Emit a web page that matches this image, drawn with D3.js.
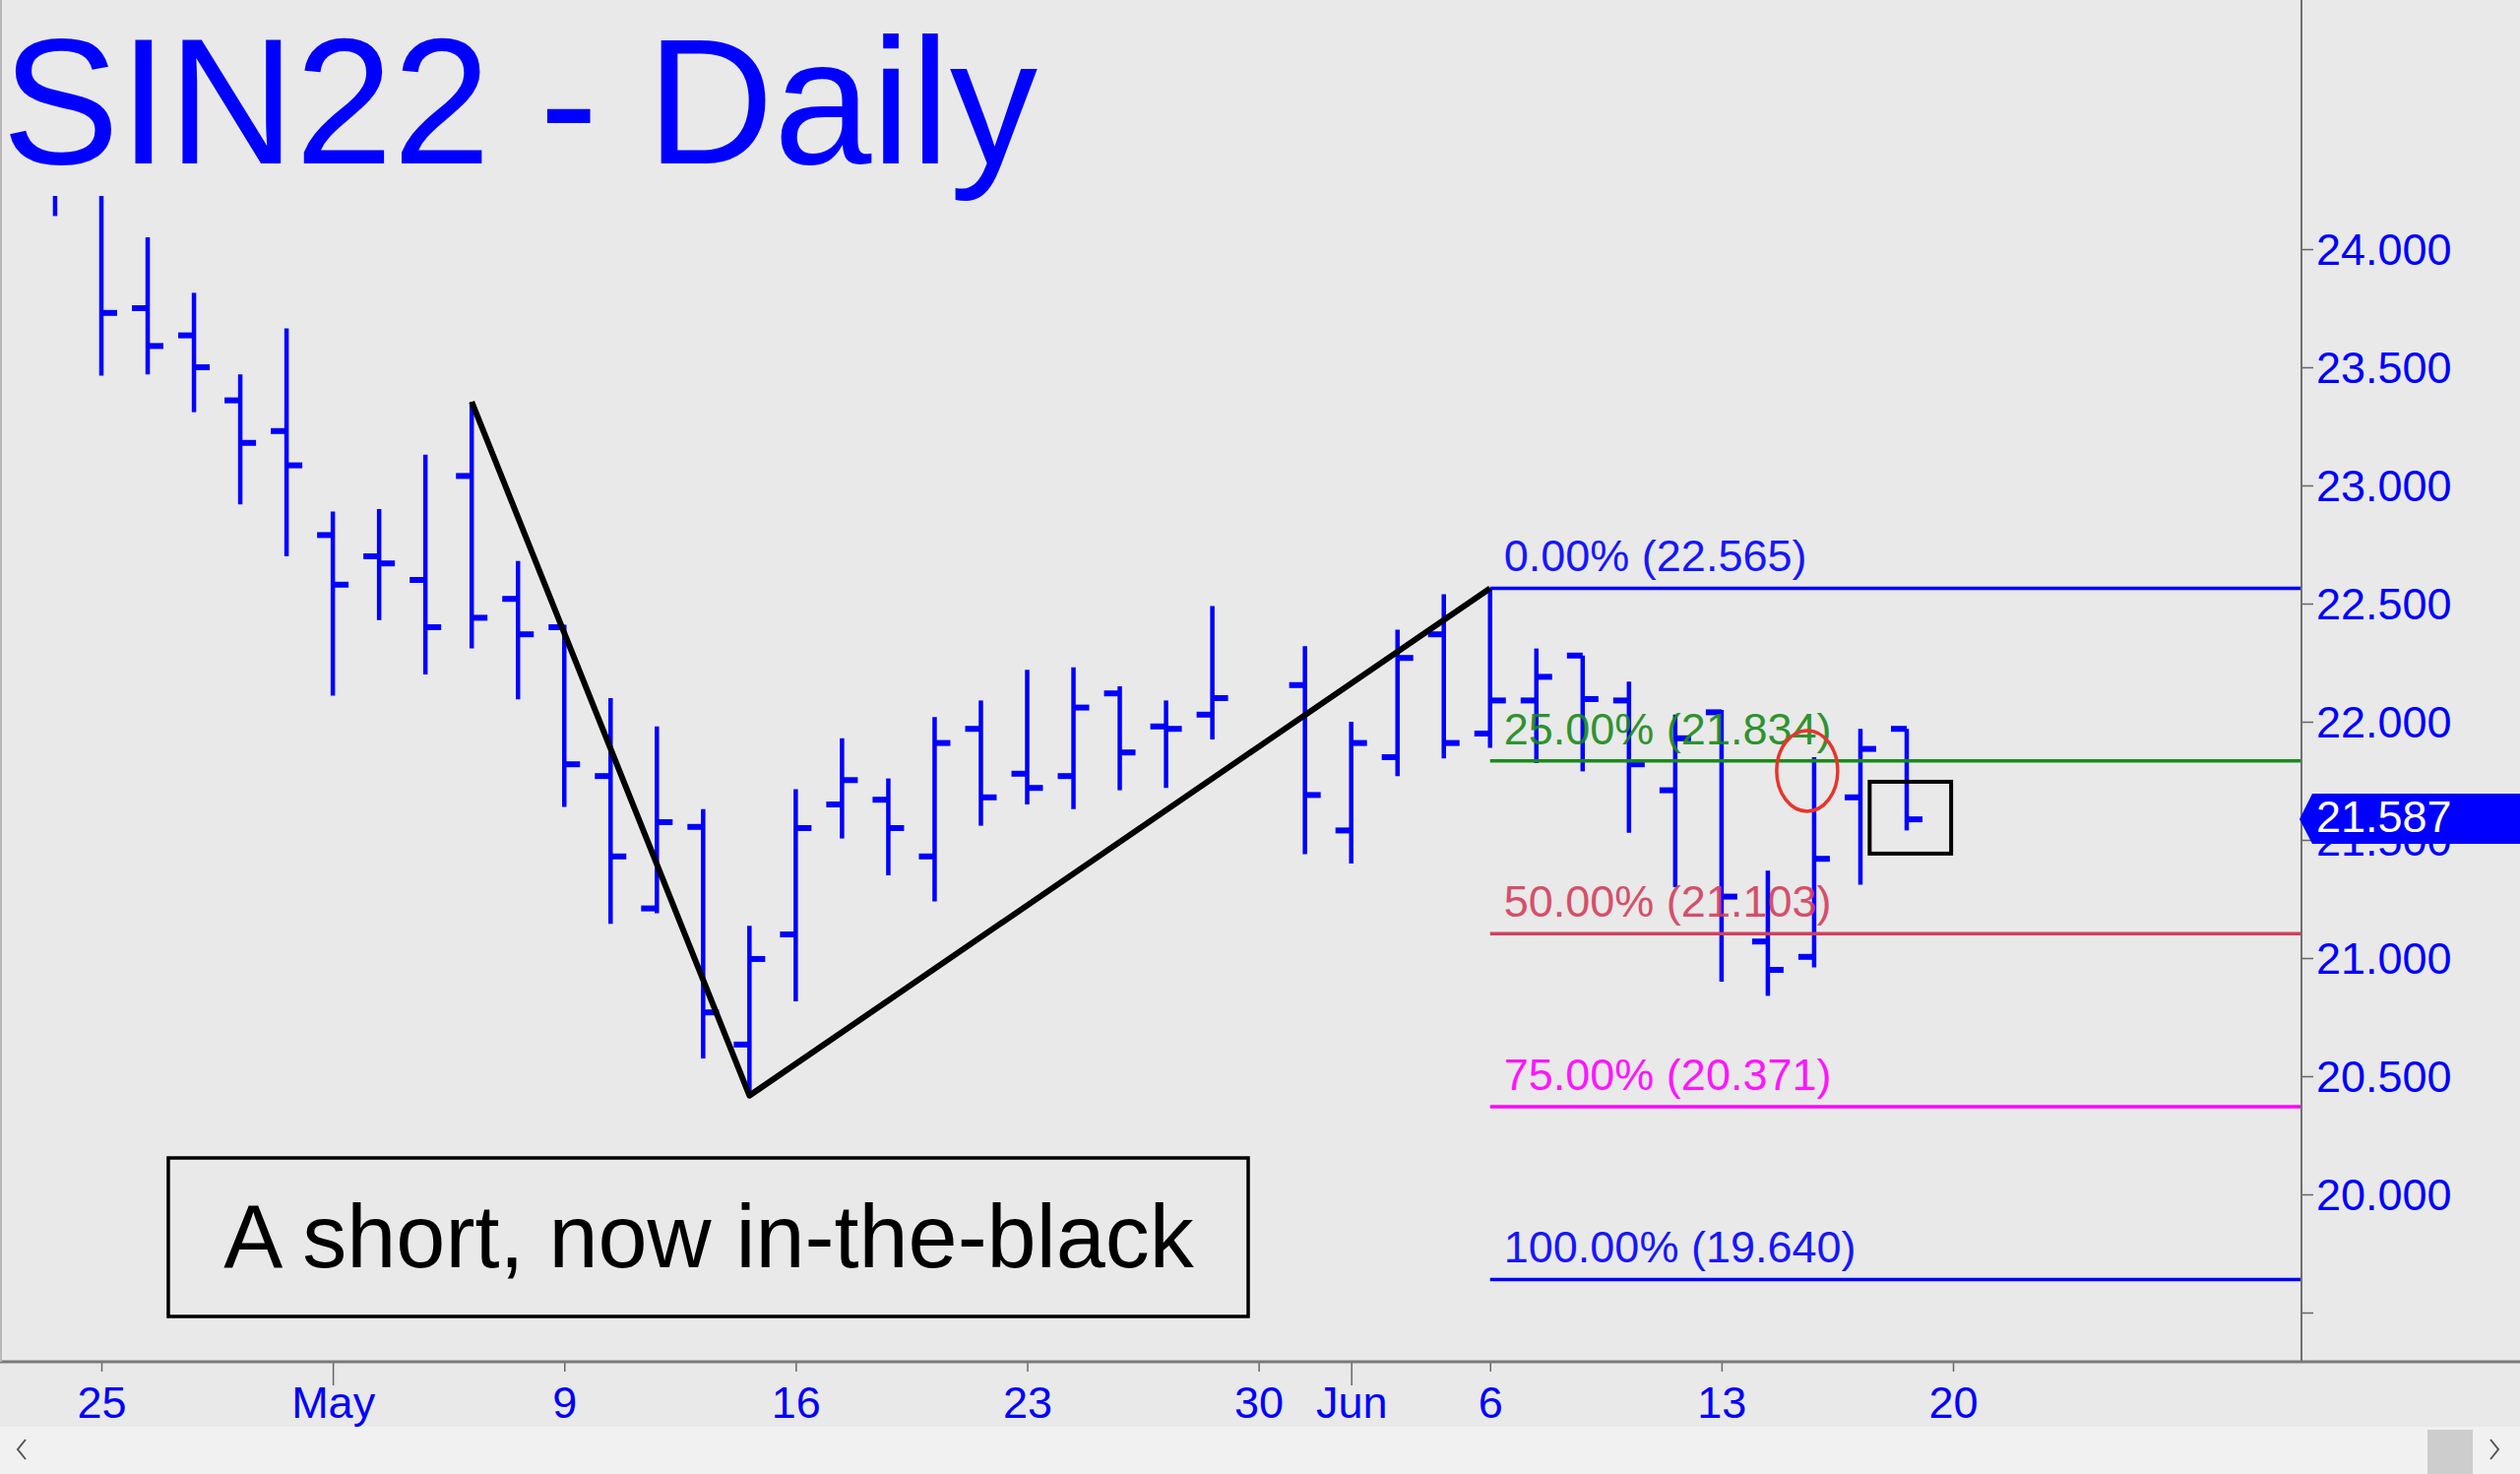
<!DOCTYPE html>
<html>
<head>
<meta charset="utf-8">
<script src="https://cdn.jsdelivr.net/npm/d3@7"></script>
<style>
  body { margin: 0; background: #e9e9e9; }
  svg { display: block; font-family: "Liberation Sans", Arial, sans-serif; }
</style>
</head>
<body>
<div id="chart"></div>
<script>
// daily OHLC bars, SIN22 (trading days only, May 30 holiday)
const dates = ["2022-04-22", "2022-04-25", "2022-04-26", "2022-04-27", "2022-04-28", "2022-04-29",
    "2022-05-02", "2022-05-03", "2022-05-04", "2022-05-05", "2022-05-06",
    "2022-05-09", "2022-05-10", "2022-05-11", "2022-05-12", "2022-05-13",
    "2022-05-16", "2022-05-17", "2022-05-18", "2022-05-19", "2022-05-20",
    "2022-05-23", "2022-05-24", "2022-05-25", "2022-05-26", "2022-05-27",
    "2022-05-31", "2022-06-01", "2022-06-02", "2022-06-03",
    "2022-06-06", "2022-06-07", "2022-06-08", "2022-06-09", "2022-06-10",
    "2022-06-13", "2022-06-14", "2022-06-15", "2022-06-16", "2022-06-17"];
const opens = [24.45, 24.30, 23.75, 23.635, 23.36, 23.23,
    22.79, 22.70, 22.60, 23.04, 22.52,
    22.40, 21.77, 21.21, 21.555, 20.634,
    21.10, 21.65, 21.67, 21.43, 21.97,
    21.78, 21.77, 22.12, 21.98, 22.03,
    22.155, 21.54, 21.85, 22.37,
    21.95, 22.09, 22.28, 22.09, 21.71,
    22.04, 21.07, 21.005, 21.68, 21.97];
const highs = [24.55, 24.40, 24.05, 23.815, 23.47, 23.665,
    22.89, 22.90, 23.13, 23.354, 22.68,
    22.41, 22.10, 21.98, 21.63, 21.136,
    21.715, 21.93, 21.76, 22.02, 22.09,
    22.22, 22.23, 22.15, 22.09, 22.49,
    22.32, 22.00, 22.39, 22.54,
    22.565, 22.31, 22.28, 22.17, 22.03,
    22.05, 21.37, 21.85, 21.97, 21.97];
const lows = [24.14, 23.465, 23.47, 23.31, 22.92, 22.70,
    22.11, 22.43, 22.20, 22.31, 22.095,
    21.64, 21.145, 21.19, 20.575, 20.418,
    20.817, 21.506, 21.35, 21.24, 21.56,
    21.65, 21.63, 21.71, 21.72, 21.925,
    21.44, 21.40, 21.77, 21.845,
    21.89, 21.825, 21.79, 21.53, 21.30,
    20.90, 20.84, 20.96, 21.31, 21.54];
const closes = [24.30, 23.73, 23.59, 23.50, 23.18, 23.085,
    22.58, 22.67, 22.40, 22.44, 22.37,
    21.82, 21.43, 21.575, 20.77, 20.996,
    21.55, 21.753, 21.55, 21.91, 21.68,
    21.72, 22.06, 21.87, 21.97, 22.10,
    21.69, 21.91, 22.27, 21.91,
    22.09, 22.19, 22.096, 21.82, 21.93,
    21.26, 20.95, 21.42, 21.885, 21.587];

// axis ticks
const tickDates = ["2022-04-25", "2022-05-02", "2022-05-09", "2022-05-16", "2022-05-23",
    "2022-05-30", "2022-06-01", "2022-06-06", "2022-06-13", "2022-06-20"];
const tickLabels = ["25", "May", "9", "16", "23", "30", "Jun", "6", "13", "20"];
const monthLabels = ["May", "Jun"];
const priceTicks = [19.5, 20, 20.5, 21, 21.5, 22, 22.5, 23, 23.5, 24];

// fibonacci levels
const fibPct = ["0.00%", "25.00%", "50.00%", "75.00%", "100.00%"];
const fibVals = [22.565, 21.834, 21.103, 20.371, 19.640];
const fibColors = ["#0000ff", "#1a8a1a", "#d2405c", "#ff00ff", "#0000ff"];
const fibStart = "2022-06-06";

// swing line
const swingDates = ["2022-05-05", "2022-05-13", "2022-06-06"];
const swingVals = [23.354, 20.418, 22.565];

let width = 2560;
let height = 1497;
let plotTop = 199;
let plotRight = 2338;
let plotBottom = 1383;

// count weekdays from Apr 25 so weekends leave no gap
const base = Date.UTC(2022, 3, 25);
const dayIndex = s => {
    let days = Math.round((Date.parse(s + "T00:00:00Z") - base) / 864e5);
    let weeks = Math.floor(days / 7);
    return weeks * 5 + Math.min(days - weeks * 7, 5);
};

let bars = dates.map((d, i) => ({
    idx: dayIndex(d), o: opens[i], h: highs[i], l: lows[i], c: closes[i]
}));

//scale functions
let xScale = d3.scaleLinear().domain([0, 40]).range([103, 1984]);
let yScale = d3.scaleLinear().domain([20, 24]).range([1213, 253]);

let svg = d3.select("#chart")
    .append("svg")
    .attr("width", width)
    .attr("height", height);

svg.append("rect")
    .attr("width", width)
    .attr("height", height)
    .attr("fill", "#e9e9e9");

svg.append("defs").append("clipPath")
    .attr("id", "plot")
    .append("rect")
    .attr("x", 0)
    .attr("y", plotTop)
    .attr("width", plotRight)
    .attr("height", plotBottom - plotTop);

// title
svg.append("text")
    .attr("x", 2)
    .attr("y", 166)
    .attr("font-size", "182px")
    .attr("fill", "#0000ff")
    .attr("textLength", 1052)
    .attr("lengthAdjust", "spacingAndGlyphs")
    .text("SIN22 - Daily");

// bars
let barG = svg.append("g").attr("clip-path", "url(#plot)");
let bar = barG.selectAll("g.bar")
    .data(bars)
    .enter()
    .append("g")
    .attr("class", "bar")
    .attr("stroke", "#0000ff");

bar.append("line")
    .attr("x1", d => xScale(d.idx))
    .attr("x2", d => xScale(d.idx))
    .attr("y1", d => yScale(d.h))
    .attr("y2", d => yScale(d.l))
    .attr("stroke-width", 4.5);

bar.append("line")
    .attr("x1", d => xScale(d.idx) - 16)
    .attr("x2", d => xScale(d.idx))
    .attr("y1", d => yScale(d.o))
    .attr("y2", d => yScale(d.o))
    .attr("stroke-width", 6);

bar.append("line")
    .attr("x1", d => xScale(d.idx))
    .attr("x2", d => xScale(d.idx) + 16)
    .attr("y1", d => yScale(d.c))
    .attr("y2", d => yScale(d.c))
    .attr("stroke-width", 6);

// fib lines and labels
let fibX = xScale(dayIndex(fibStart));
fibVals.forEach((v, i) => {
    svg.append("line")
        .attr("x1", fibX)
        .attr("x2", plotRight)
        .attr("y1", yScale(v))
        .attr("y2", yScale(v))
        .attr("stroke", fibColors[i])
        .attr("stroke-width", 3.5);
    svg.append("text")
        .attr("x", fibX + 14)
        .attr("y", yScale(v) - 17)
        .attr("font-size", "45px")
        .attr("fill", fibColors[i])
        .attr("opacity", 0.9)
        .text(fibPct[i] + " (" + v.toFixed(3) + ")");
});

// swing line
let swing = swingDates.map((d, i) => [xScale(dayIndex(d)), yScale(swingVals[i])]);
svg.append("path")
    .attr("d", d3.line()(swing))
    .attr("fill", "none")
    .attr("stroke", "#000")
    .attr("stroke-width", 6)
    .attr("stroke-linejoin", "round");

// red ellipse and black box annotations
svg.append("ellipse")
    .attr("cx", xScale(36.85))
    .attr("cy", yScale(21.792))
    .attr("rx", 31)
    .attr("ry", 41)
    .attr("fill", "none")
    .attr("stroke", "#e8342c")
    .attr("stroke-width", 3.5);

svg.append("rect")
    .attr("x", xScale(38.2))
    .attr("y", yScale(21.746))
    .attr("width", xScale(39.96) - xScale(38.2))
    .attr("height", yScale(21.442) - yScale(21.746))
    .attr("fill", "none")
    .attr("stroke", "#000")
    .attr("stroke-width", 4);

// comment box
svg.append("rect")
    .attr("x", 171)
    .attr("y", 1176)
    .attr("width", 1097)
    .attr("height", 161)
    .attr("fill", "none")
    .attr("stroke", "#000")
    .attr("stroke-width", 3.5);

svg.append("text")
    .attr("x", 720)
    .attr("y", 1287)
    .attr("font-size", "90px")
    .attr("fill", "#000")
    .style("text-anchor", "middle")
    .text("A short, now in-the-black");

// y axis
let yAxis = d3.axisRight(yScale)
    .tickValues(priceTicks)
    .tickSize(12)
    .tickFormat(v => v === 19.5 ? "" : d3.format(".3f")(v));

let yG = svg.append("g")
    .attr("transform", "translate(" + plotRight + ",0)")
    .call(yAxis);
yG.select(".domain").remove();
yG.selectAll("line").attr("stroke", "#666").attr("stroke-width", 1.5);
yG.selectAll("text")
    .attr("x", 15)
    .attr("dy", "0.35em")
    .attr("font-size", "45px")
    .attr("font-family", "Liberation Sans, Arial, sans-serif")
    .attr("fill", "#0000ff");

svg.append("line")
    .attr("x1", plotRight)
    .attr("x2", plotRight)
    .attr("y1", 0)
    .attr("y2", plotBottom)
    .attr("stroke", "#707070")
    .attr("stroke-width", 2);

// last price marker
let last = closes[closes.length - 1];
let ly = yScale(last);
svg.append("path")
    .attr("d", "M" + (plotRight - 2) + "," + ly +
        "L" + (plotRight + 11) + "," + (ly - 26) +
        "L" + width + "," + (ly - 26) +
        "L" + width + "," + (ly + 25) +
        "L" + (plotRight + 11) + "," + (ly + 25) + "Z")
    .attr("fill", "#0000ff");

svg.append("text")
    .attr("x", plotRight + 15)
    .attr("y", ly + 13)
    .attr("font-size", "45px")
    .attr("fill", "#fff")
    .text(last.toFixed(3));

// x axis
let tickIdx = tickDates.map(dayIndex);
let xAxis = d3.axisBottom(xScale)
    .tickValues(tickIdx)
    .tickSize(10)
    .tickFormat((d, i) => tickLabels[i]);

let xG = svg.append("g")
    .attr("transform", "translate(0," + plotBottom + ")")
    .call(xAxis);
xG.select(".domain").remove();
xG.selectAll("line").attr("stroke", "#666").attr("stroke-width", 1.5);
xG.selectAll(".tick")
    .filter((d, i) => monthLabels.includes(tickLabels[i]))
    .select("line")
    .attr("y2", 24);
xG.selectAll("text")
    .attr("y", 25)
    .attr("font-size", "45px")
    .attr("font-family", "Liberation Sans, Arial, sans-serif")
    .attr("fill", "#0000ff");

svg.append("line")
    .attr("x1", 0)
    .attr("x2", width)
    .attr("y1", plotBottom)
    .attr("y2", plotBottom)
    .attr("stroke", "#7a7a7a")
    .attr("stroke-width", 3);

// frame edges
svg.append("line")
    .attr("x1", 1).attr("x2", 1)
    .attr("y1", 0).attr("y2", plotBottom)
    .attr("stroke", "#b8b8b8")
    .attr("stroke-width", 2);

// scrollbar strip
svg.append("rect")
    .attr("x", 0)
    .attr("y", 1449)
    .attr("width", width)
    .attr("height", height - 1449)
    .attr("fill", "#f1f1f1");

svg.append("rect")
    .attr("x", 2466)
    .attr("y", 1452)
    .attr("width", 46)
    .attr("height", 45)
    .attr("fill", "#cdcdcd");

svg.append("path")
    .attr("d", "M26,1462L18,1472L26,1482")
    .attr("fill", "none")
    .attr("stroke", "#555")
    .attr("stroke-width", 2);

svg.append("path")
    .attr("d", "M2530,1462L2538,1472L2530,1482")
    .attr("fill", "none")
    .attr("stroke", "#555")
    .attr("stroke-width", 2);
</script>
</body>
</html>
